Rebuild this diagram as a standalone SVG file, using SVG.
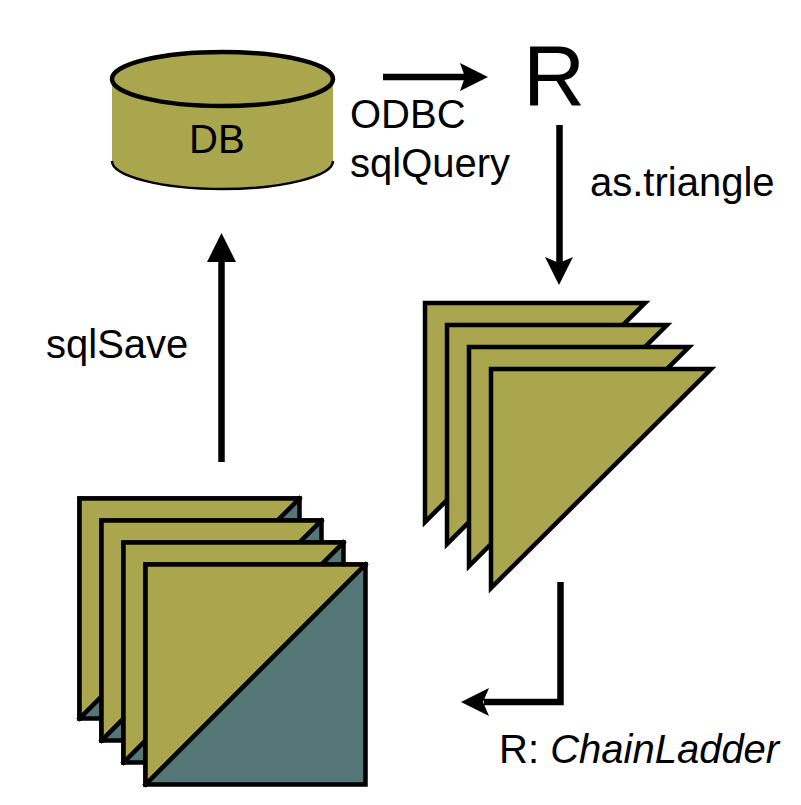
<svg xmlns="http://www.w3.org/2000/svg" width="801" height="805" viewBox="0 0 801 805">
<style>
text{font-family:"Liberation Sans",Arial,sans-serif;font-size:40px;fill:#000}
.o{fill:#a9a64d}
.t{fill:#a9a64d;stroke:#000;stroke-width:4.500;stroke-linejoin:miter}
.b{fill:#557677;stroke:#000;stroke-width:4.500}
.u{fill:#a9a64d;stroke:none}
.d{fill:none;stroke:#000;stroke-width:4.500;stroke-linecap:square}
.c{fill:none;stroke:#000;stroke-width:6.500}
.h{fill:#000}
</style>
<rect width="801" height="805" fill="#fff"/>
<g id="db">
<path class="o" d="M112 79V161C112 176 161 189 222.500 189S333 176 333 161V79Z"/>
<path d="M112 161C112 176 161 189 222.500 189S333 176 333 161" fill="none" stroke="#000" stroke-width="2.500"/>
<ellipse class="t" cx="222.500" cy="79" rx="110.500" ry="27"/>
<text x="189" y="153">DB</text>
</g>
<g id="r"><text x="523" y="105" style="font-size:86px">R</text></g>
<g id="triangles">
<path class="t" d="M425 303H645L425 522Z"/>
<path class="t" d="M447 325H667L447 544Z"/>
<path class="t" d="M469 347H689L469 566Z"/>
<path class="t" d="M491 369H711L491 588Z"/>
</g>
<g id="squares">
<g id="s1"><rect class="b" x="79.500" y="498.500" width="220" height="220"/><path class="u" d="M79.500 498.500H299.500L79.500 718.500Z"/><path class="d" d="M79.500 718.500V498.500H299.500"/><path class="d" d="M299.500 498.500L79.500 718.500"/></g>
<g id="s2"><rect class="b" x="101.500" y="520.500" width="220" height="220"/><path class="u" d="M101.500 520.500H321.500L101.500 740.500Z"/><path class="d" d="M101.500 740.500V520.500H321.500"/><path class="d" d="M321.500 520.500L101.500 740.500"/></g>
<g id="s3"><rect class="b" x="123.500" y="542.500" width="220" height="220"/><path class="u" d="M123.500 542.500H343.500L123.500 762.500Z"/><path class="d" d="M123.500 762.500V542.500H343.500"/><path class="d" d="M343.500 542.500L123.500 762.500"/></g>
<g id="s4"><rect class="b" x="145.500" y="564.500" width="220" height="220"/><path class="u" d="M145.500 564.500H365.500L145.500 784.500Z"/><path class="d" d="M145.500 784.500V564.500H365.500"/><path class="d" d="M365.500 564.500L145.500 784.500"/></g>
</g>
<g id="connectors">
<path class="c" d="M383 77H466"/><path class="h" d="M488 77L460 63L465 77L460 91Z"/>
<path class="c" d="M559.500 125V264"/><path class="h" d="M559 285L545 257L559 263L573 257Z"/>
<path class="c" d="M221.500 462V258"/><path class="h" d="M221.500 233L207 262H236Z"/>
<path class="c" d="M560.500 582V702H484"/><path class="h" d="M461 702L489 688L483 702L489 716Z"/>
</g>
<g id="labels">
<text x="350" y="128">ODBC</text>
<text x="350" y="176.500">sqlQuery</text>
<text x="590" y="195.500">as.triangle</text>
<text x="46" y="357.500">sqlSave</text>
<text x="499" y="763">R: <tspan font-style="italic">ChainLadder</tspan></text>
</g>
</svg>
